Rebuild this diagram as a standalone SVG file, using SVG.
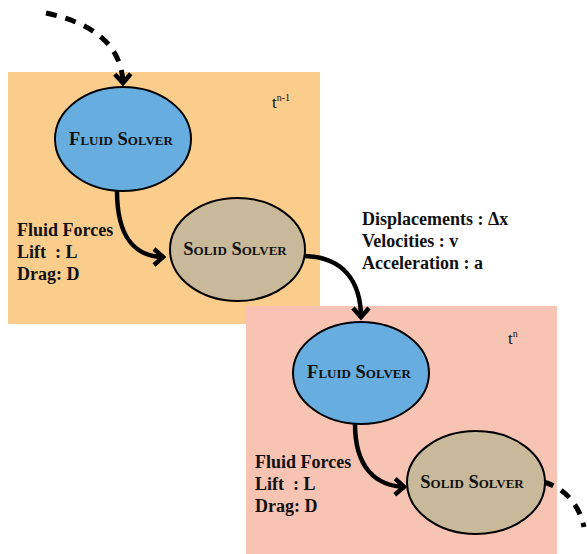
<svg xmlns="http://www.w3.org/2000/svg" width="587" height="554" viewBox="0 0 587 554">
<defs>
<style>
.lbl{font-family:"Liberation Serif","Times New Roman",serif;font-weight:bold;font-size:18px;fill:#111;white-space:pre}
.node{font-family:"Liberation Serif","Times New Roman",serif;font-weight:bold;font-size:18.5px;font-variant:small-caps;fill:#111;text-anchor:middle}
.time{font-family:"Liberation Serif","Times New Roman",serif;font-size:17px;fill:#111}
.sup{font-size:10px}
.edge{fill:none;stroke:#000;stroke-width:4.5}
.dash{stroke-dasharray:11 9;stroke-width:5}
ellipse{stroke:#000;stroke-width:2}
.fluid{fill:#67ADE0}
.solid{fill:#C9B99B}
</style>
<marker id="arr" markerUnits="userSpaceOnUse" markerWidth="30" markerHeight="30" viewBox="-15 -15 30 30" refX="0" refY="0" orient="auto">
<path d="M-10,-8 L-1,0 L-10,8" fill="none" stroke="#000" stroke-width="4.5" stroke-linejoin="miter"/>
</marker>
</defs>
<g id="step-n-1">
<rect x="8" y="72" width="312" height="252" fill="#FACD8D"/>
<text class="time" x="272" y="108">t<tspan class="sup" dy="-7">n-1</tspan></text>
</g>
<g id="step-n">
<rect x="246" y="306" width="311" height="248" fill="#F7C3B3"/>
<text class="time" x="508" y="344">t<tspan class="sup" dy="-7">n</tspan></text>
</g>
<g id="connectors">
<path class="edge dash" d="M46,13 C88,22 122,42 123,84" marker-end="url(#arr)"/>
<path class="edge" d="M117,191 C117,238 136,257 164,257" marker-end="url(#arr)"/>
<path class="edge" d="M305,256 C342,257 361,280 361,318" marker-end="url(#arr)"/>
<path class="edge" d="M355,424 C355,468 376,486 405,487" marker-end="url(#arr)"/>
<path class="edge dash" d="M543,482 C560,486 578,500 584,527"/>
</g>
<g id="fluid1">
<ellipse class="fluid" cx="123" cy="139" rx="68" ry="52"/>
<text class="node" x="121" y="145">Fluid Solver</text>
</g>
<g id="solid1">
<ellipse class="solid" cx="237.5" cy="249.5" rx="67.5" ry="51.5"/>
<text class="node" x="235" y="255">Solid Solver</text>
</g>
<g id="fluid2">
<ellipse class="fluid" cx="361" cy="373" rx="68" ry="51"/>
<text class="node" x="359" y="378">Fluid Solver</text>
</g>
<g id="solid2">
<ellipse class="solid" cx="476" cy="482.5" rx="69" ry="51.5"/>
<text class="node" x="472" y="488">Solid Solver</text>
</g>
<g id="labels">
<text class="lbl" x="17" y="236">Fluid Forces</text>
<text class="lbl" x="17" y="258">Lift  : L</text>
<text class="lbl" x="17" y="280">Drag: D</text>
<text class="lbl" x="362" y="225">Displacements : Δx</text>
<text class="lbl" x="362" y="247">Velocities : v</text>
<text class="lbl" x="362" y="269">Acceleration : a</text>
<text class="lbl" x="255" y="468">Fluid Forces</text>
<text class="lbl" x="255" y="490">Lift  : L</text>
<text class="lbl" x="255" y="512">Drag: D</text>
</g>
</svg>
